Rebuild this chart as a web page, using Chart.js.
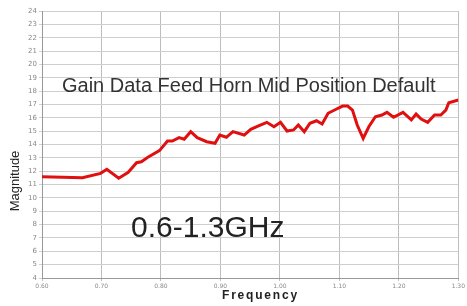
<!DOCTYPE html>
<html>
<head>
<meta charset="utf-8">
<script src="https://cdn.jsdelivr.net/npm/chart.js@4"></script>
<style>
  html, body { margin: 0; padding: 0; background: #fff; }
  #wrap { width: 467px; height: 306px; position: relative; }
</style>
</head>
<body>
<div id="wrap"><canvas id="gainChart"></canvas></div>
<script>
// frequency (GHz) and gain
const freqs = [0.60, 0.668, 0.6985, 0.709, 0.729, 0.745, 0.759, 0.767, 0.778, 0.7975,
  0.811, 0.819, 0.8305, 0.839, 0.850, 0.861, 0.877, 0.891, 0.899, 0.910,
  0.921, 0.940, 0.951, 0.965, 0.978, 0.990, 1.001, 1.012, 1.023, 1.031,
  1.041, 1.0505, 1.0615, 1.071, 1.081, 1.0945, 1.1055, 1.114, 1.122, 1.130,
  1.140, 1.1495, 1.1605, 1.1715, 1.180, 1.191, 1.207, 1.221, 1.229, 1.2375,
  1.2485, 1.260, 1.2705, 1.279, 1.284, 1.300];
const gain = [11.59, 11.51, 11.84, 12.14, 11.47, 11.92, 12.64, 12.71, 13.04, 13.54,
  14.26, 14.26, 14.51, 14.39, 14.96, 14.51, 14.21, 14.09, 14.71, 14.54,
  14.96, 14.71, 15.14, 15.41, 15.66, 15.33, 15.66, 15.01, 15.09, 15.46,
  14.96, 15.59, 15.78, 15.54, 16.34, 16.64, 16.88, 16.88, 16.58, 15.46,
  14.46, 15.33, 16.08, 16.21, 16.41, 16.04, 16.41, 15.84, 16.28, 15.91,
  15.66, 16.21, 16.21, 16.58, 17.13, 17.33];

const titleText = "Gain Data Feed Horn Mid Position Default";
const bandText = "0.6-1.3GHz";

// text inside the plot + axis titles
const labelsPlugin = {
  id: "labels",
  afterDraw(chart) {
    const ctx = chart.ctx;
    ctx.save();
    ctx.textBaseline = "middle";
    ctx.fillStyle = "#333";
    ctx.font = "20px 'Liberation Sans', Arial, sans-serif";
    ctx.textAlign = "left";
    ctx.fillText(titleText, 62, 86);
    ctx.fillStyle = "#222";
    ctx.font = "30px 'Liberation Sans', Arial, sans-serif";
    ctx.fillText(bandText, 131, 229);

    ctx.fillStyle = "#222";
    ctx.font = "bold 12px 'Liberation Sans', Arial, sans-serif";
    ctx.textAlign = "left";
    ctx.letterSpacing = "1.8px";
    ctx.fillText("Frequency", 222, 296);
    ctx.letterSpacing = "0px";

    ctx.translate(15, 181);
    ctx.rotate(-Math.PI / 2);
    ctx.textAlign = "center";
    ctx.font = "13px 'Liberation Sans', Arial, sans-serif";
    ctx.fillText("Magnitude", 0, 0);
    ctx.restore();
  }
};

new Chart(document.getElementById("gainChart"), {
  type: "line",
  data: {
    datasets: [{
      data: freqs.map((f, i) => ({ x: f, y: gain[i] })),
      borderColor: "#e01010",
      borderWidth: 3,
      pointRadius: 0,
      tension: 0,
    }],
  },
  options: {
    responsive: true,
    maintainAspectRatio: false,
    animation: false,
    layout: { padding: { top: 11, right: 1, left: 0, bottom: 0 } },
    plugins: { legend: { display: false }, tooltip: { enabled: false } },
    scales: {
      x: {
        type: "linear",
        min: 0.6,
        max: 1.3,
        afterFit: (s) => { s.height = 28; },
        ticks: {
          stepSize: 0.1,
          maxRotation: 0,
          padding: 2,
          color: "#888",
          font: { size: 6, family: "'DejaVu Sans', sans-serif" },
          callback: (v) => v.toFixed(2),
        },
        grid: { color: "#bdbdbd", tickLength: 3 },
        border: { color: "#999" },
      },
      y: {
        min: 4,
        max: 24,
        afterFit: (s) => { s.width = 42; },
        ticks: {
          stepSize: 1,
          padding: 2,
          color: "#888",
          font: { size: 7, family: "'DejaVu Sans', sans-serif" },
        },
        grid: { color: "#cfcfcf", tickLength: 3 },
        border: { color: "#999" },
      },
    },
  },
  plugins: [labelsPlugin],
});
</script>
</body>
</html>
